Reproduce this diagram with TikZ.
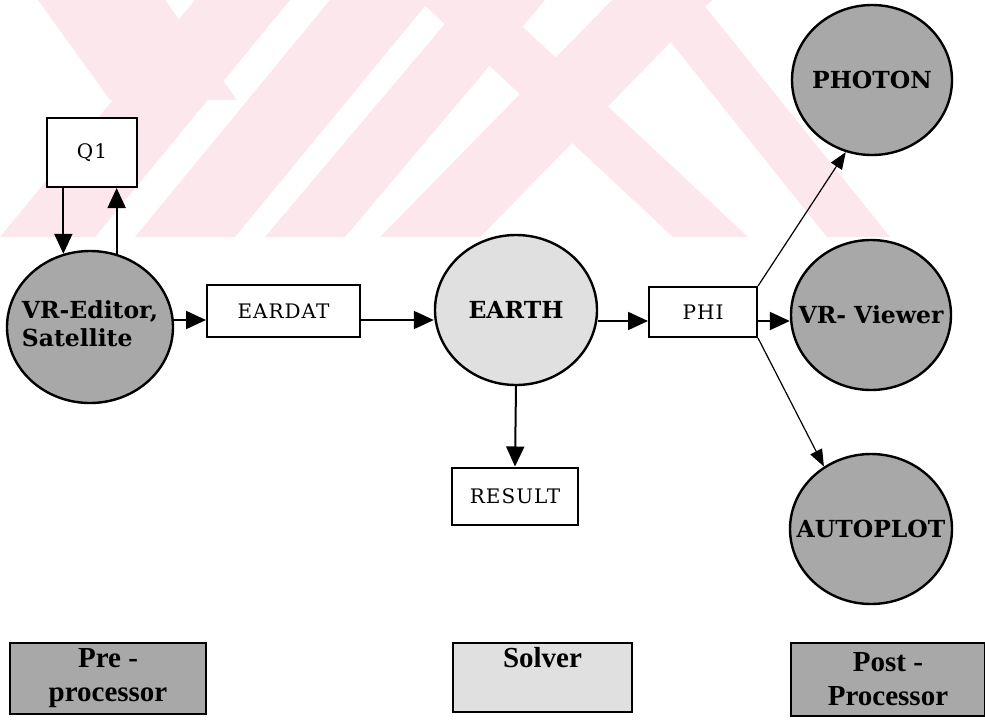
\documentclass[tikz,border=0pt]{standalone}
\usepackage{fontspec}
\setmainfont{DejaVu Serif}
\newfontfamily\boxfont{DejaVu Serif}[LetterSpace=5]
\newfontfamily\bubfont{DejaVu Serif Bold}
\newfontfamily\tagfont{Liberation Serif Bold}
\usetikzlibrary{arrows.meta,shapes.geometric}
\definecolor{darkfill}{gray}{0.66}
\definecolor{lightfill}{gray}{0.88}
\definecolor{wmark}{RGB}{252,232,236}
\begin{document}
\begin{tikzpicture}[x=1pt,y=-1pt,
  boxnode/.style={draw,line width=2pt,fill=white,inner sep=0pt,
    font=\boxfont\fontsize{20}{22}\selectfont},
  bub/.style={ellipse,draw,line width=2.4pt,inner xsep=-30pt,inner ysep=0pt,
    font=\bubfont\fontsize{23.5}{27}\selectfont},
  darkbub/.style={bub,fill=darkfill},
  lightbub/.style={bub,fill=lightfill},
  tagbox/.style={draw,line width=2pt,inner sep=0pt,align=center,
    font=\tagfont\fontsize{29}{34}\selectfont},
  arr/.style={line width=2pt,-{Triangle[length=20pt,width=18pt]}},
  thinarr/.style={line width=1.2pt,-{Triangle[length=17pt,width=13pt]}},
  wm/.style={fill=wmark,draw=none}]
\useasboundingbox (0,0) rectangle (985,721);
\fill[white] (0,0) rectangle (985,721);

% faint watermark in the upper band
\begin{scope}
\clip (0,0) rectangle (985,237);
\fill[wm] (38,0) -- (165,0) -- (237,100) -- (110,100) -- cycle;
\fill[wm] (0,237) -- (95,237) -- (290,0) -- (195,0) -- cycle;
\fill[wm] (135,237) -- (235,237) -- (430,0) -- (330,0) -- cycle;
\fill[wm] (265,237) -- (345,237) -- (545,0) -- (465,0) -- cycle;
\fill[wm] (380,237) -- (480,237) -- (712,0) -- (612,0) -- cycle;
\fill[wm] (419,0) -- (494,0) -- (748,237) -- (673,237) -- cycle;
\fill[wm] (637,0) -- (700,0) -- (890,237) -- (827,237) -- cycle;
\end{scope}

% nodes
\node[boxnode,minimum width=90pt,minimum height=69pt] (q1) at (92,152.5) {Q1};
\node[darkbub,minimum width=166pt,minimum height=152pt] (vr) at (90,327)
  {\raisebox{4pt}{\begin{tabular}{@{}l@{}}VR-Editor,\\[1pt]Satellite\end{tabular}}};
\node[boxnode,minimum width=153pt,minimum height=52pt] (eardat) at (283.5,311) {EARDAT};
\node[lightbub,minimum width=162pt,minimum height=150pt] (earth) at (516,310) {EARTH};
\node[boxnode,minimum width=108pt,minimum height=50pt] (phi) at (703,312) {PHI};
\node[boxnode,minimum width=126pt,minimum height=57pt] (result) at (515,496) {RESULT};
\node[darkbub,minimum width=160pt,minimum height=150pt] (photon) at (872,80) {PHOTON};
\node[darkbub,minimum width=160pt,minimum height=150pt] (vrv) at (871,315) {VR- Viewer};
\node[darkbub,minimum width=162pt,minimum height=150pt] (auto) at (871,529) {AUTOPLOT};

\node[tagbox,fill=darkfill,minimum width=196pt,minimum height=71pt] (pre) at (108,678.5)
  {Pre -\\processor};
\node[tagbox,fill=lightfill,minimum width=179pt,minimum height=69pt] (solver) at (542.5,677.5)
  {Solver\\\phantom{p}};
\node[tagbox,fill=darkfill,minimum width=194pt,minimum height=73pt] (post) at (888,679.5)
  {Post -\\Processor};

% connectors
\draw[arr] (q1.south -| vr.110) -- (vr.110);
\draw[arr] (vr.70) -- (q1.south -| vr.70);
\draw[arr] ([yshift=-9pt]eardat.west -| vr.east) -- ([yshift=-9pt]eardat.west);
\draw[arr] ([yshift=-9pt]eardat.east) -- ([yshift=-9pt]eardat.east -| earth.west);
\draw[arr] ([yshift=-9pt]phi.west -| earth.east) -- ([yshift=-9pt]phi.west);
\draw[arr] (earth.south) -- (result.north);
\draw[arr] ([yshift=-9pt]phi.east) -- ([yshift=-9pt]phi.east -| vrv.west);
\draw[thinarr] (phi.north east) -- (photon.250);
\draw[thinarr] (phi.south east) -- (auto.127);
\end{tikzpicture}
\end{document}
